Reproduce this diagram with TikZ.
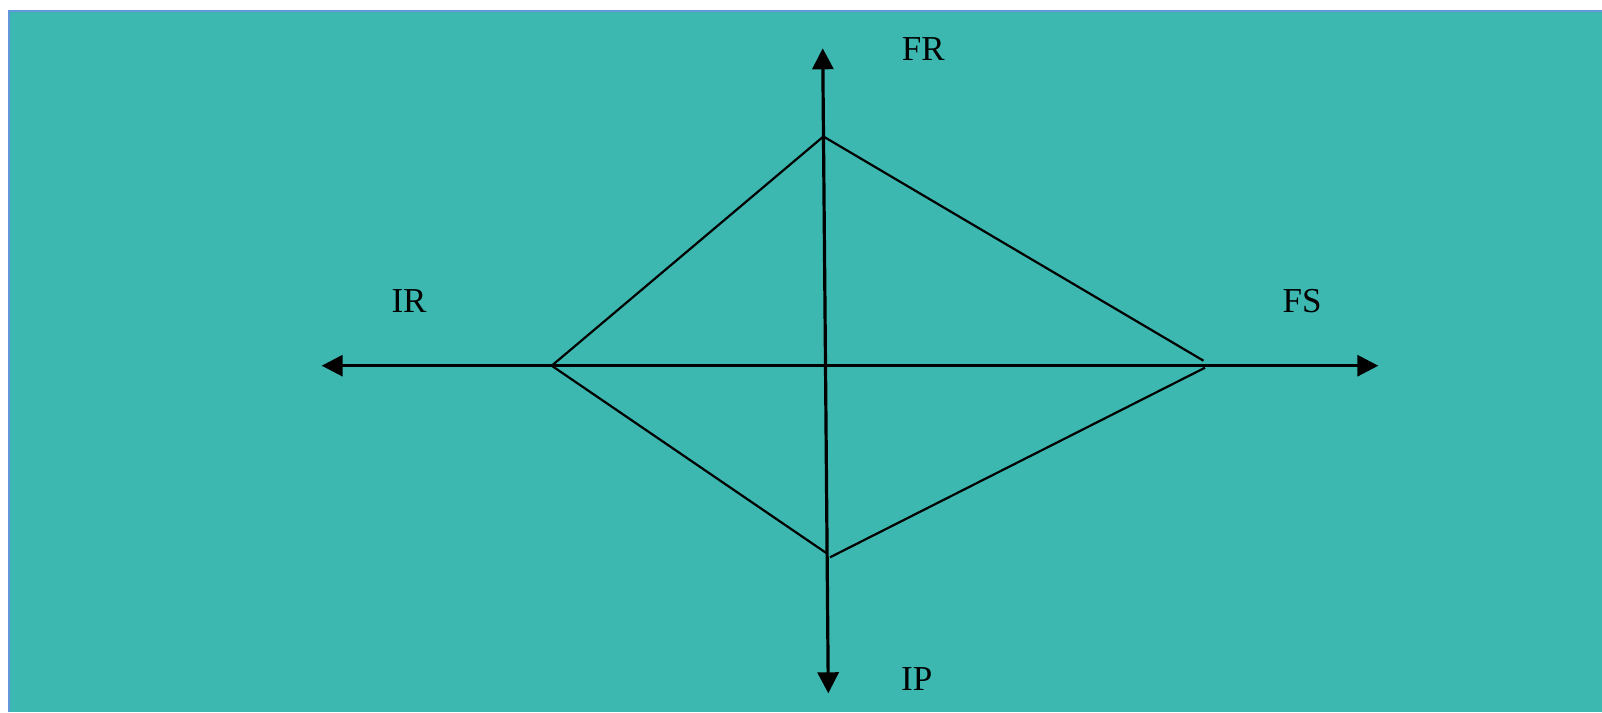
\documentclass[tikz,border=0pt]{standalone}
\usepackage{fontspec}
\setmainfont{Liberation Serif}
\usetikzlibrary{arrows.meta}
\definecolor{bgteal}{RGB}{60,184,177}
\definecolor{edgeblue}{RGB}{100,150,220}
\tikzset{
  axis/.style={line width=3.2pt,-{Triangle[length=21pt,width=21pt]}},
  edge/.style={line width=2.2pt},
  lbl/.style={font=\fontsize{35}{40}\selectfont,inner sep=0pt}
}
\begin{document}
\begin{tikzpicture}[x=1pt,y=-1pt]
\useasboundingbox (0,0) rectangle (1602,712);
\fill[white] (0,0) rectangle (1602,712);
\fill[bgteal] (8,10) rectangle (1602,712);
\draw[edgeblue,line width=2pt] (9,712) -- (9,11) -- (1602,11);
% axis ends
\coordinate (c) at (825.5,365.7);
\coordinate (up) at (822.7,48.3);
\coordinate (dn) at (828.3,693.3);
\coordinate (lt) at (321.7,365.7);
\coordinate (rt) at (1378.3,365.7);
% diamond vertices
\coordinate (L) at (551.7,365.7);
\coordinate (T) at (823.4,136.5);
\coordinate (R1) at (1203.5,360.7);
\coordinate (R2) at (1205,367.7);
\coordinate (B1) at (826.7,553.3);
\coordinate (B2) at (830,557.3);
\draw[edge] (L) -- (T) -- (R1);
\draw[edge] (L) -- (B1);
\draw[edge] (B2) -- (R2);
\draw[axis] (c) -- (up);
\draw[axis] (c) -- (dn);
\draw[axis] (c) -- (lt);
\draw[axis] (c) -- (rt);
\node[lbl] (fr) at (923.3,49) {FR};
\node[lbl] (ir) at (409,301) {IR};
\node[lbl] (fs) at (1302,301) {FS};
\node[lbl] (ip) at (916.7,679) {IP};
\end{tikzpicture}
\end{document}
